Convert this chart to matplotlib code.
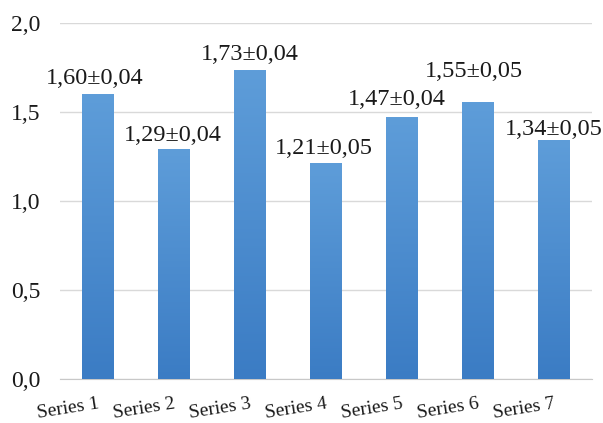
import numpy as np
import matplotlib.pyplot as plt
from matplotlib.colors import LinearSegmentedColormap

categories = ["Series 1", "Series 2", "Series 3", "Series 4", "Series 5", "Series 6", "Series 7"]
values = [1.60, 1.29, 1.73, 1.21, 1.47, 1.55, 1.34]
errors = [0.04, 0.04, 0.04, 0.05, 0.04, 0.05, 0.05]
yticks = [0.0, 0.5, 1.0, 1.5, 2.0]

# hand-placed nudges for the value labels (points)
label_dx = [-2.5, -0.7, -0.4, -1.4, -3.6, -3.0, 0.0]
label_dy = [3.8, 2.4, 4.6, 3.1, 5.3, 15.4, 0.5]

plt.rcParams['font.family'] = ['Liberation Serif', 'DejaVu Serif']

fig = plt.figure(figsize=(6.03, 4.23), dpi=100)
ax = fig.add_axes([0.0995, 0.104, 0.882, 0.842])

x = np.arange(len(categories))
width = 0.41

# plain bars first, then a vertical gradient painted into each one
bars = ax.bar(x, values, width=width, color='#4a8bcf', zorder=2)
cmap = LinearSegmentedColormap.from_list('bluegrad', ['#3b7cc4', '#5e9dd9'])
grad = np.linspace(0, 1, 256).reshape(-1, 1)
for b in bars:
    x0, y0 = b.get_x(), b.get_y()
    ax.imshow(grad, cmap=cmap, origin='lower', aspect='auto',
              extent=(x0, x0 + b.get_width(), y0, y0 + b.get_height()), zorder=3)

for xi, v, e, dx, dy in zip(x, values, errors, label_dx, label_dy):
    label = f"{v:.2f}±{e:.2f}".replace('.', ',')
    ax.annotate(label, (xi, v), xytext=(dx, dy), textcoords='offset points',
                ha='center', va='bottom', fontsize=17.5, color='#1a1a1a', zorder=4)

ax.set_xlim(-0.5, len(categories) - 0.5)
ax.set_ylim(0, 2.0)
ax.set_yticks(yticks)
ax.set_yticklabels([f"{t:.1f}".replace('.', ',') for t in yticks], fontsize=17)
ax.set_xticks(x)
ax.set_xticklabels(categories, fontsize=14, rotation=9, ha='right',
                   va='top', rotation_mode='anchor')
ax.tick_params(axis='both', length=0, colors='#1a1a1a')
ax.tick_params(axis='y', pad=14)
ax.tick_params(axis='x', pad=12)

ax.grid(axis='y', color='#d9d9d9', linewidth=1, zorder=0)
ax.set_axisbelow(True)
for side in ['top', 'right', 'left']:
    ax.spines[side].set_visible(False)
ax.spines['bottom'].set_color('#c8c8c8')

fig.savefig("out.png", dpi=100)
